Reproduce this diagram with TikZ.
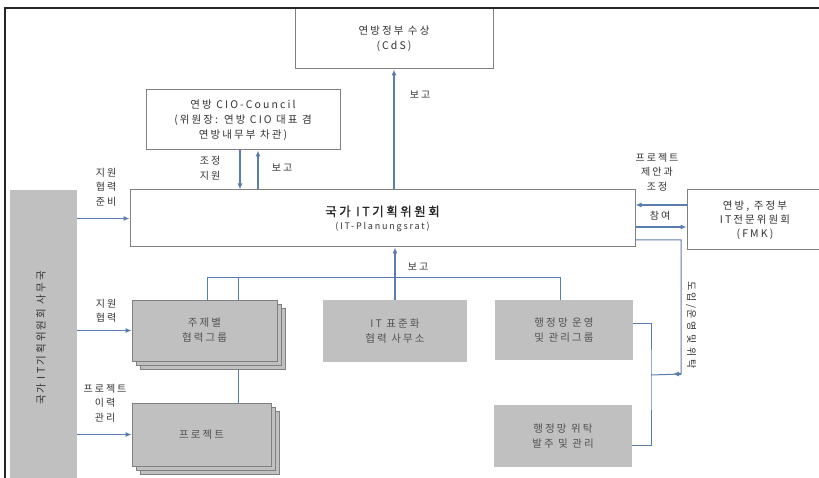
\documentclass[tikz,border=0pt]{standalone}
\usepackage{fontspec}
\setmainfont{Noto Sans CJK KR}[LetterSpace=20]
\usetikzlibrary{arrows.meta,shadows,backgrounds}

\definecolor{blau}{HTML}{5A7DB0}
\definecolor{kasten}{HTML}{C0C0C0}
\definecolor{rand}{HTML}{808080}
\definecolor{schrift}{HTML}{333333}

\tikzset{
  weiss/.style={draw=rand, fill=white, line width=1pt, align=center, text=schrift,
    font=\fontsize{10.5}{15}\selectfont},
  grau/.style={fill=kasten, align=center, text=schrift!85,
    font=\fontsize{10.5}{15}\selectfont},
  stapel/.style={grau, draw=rand, line width=.8pt,
    double copy shadow={shadow xshift=4pt, shadow yshift=-4pt, fill=kasten, draw=rand}},
  pfeil/.style={draw=blau, line width=1.1pt, -{Latex[length=6pt,width=5pt]}},
  linie/.style={draw=blau, line width=1pt},
  beschr/.style={text=schrift, align=center, font=\fontsize{10}{14.5}\selectfont},
}

\begin{document}
\begin{tikzpicture}[x=1pt,y=-1pt]
  \useasboundingbox (0,0) rectangle (819,478);

  % obere Ebene
  \begin{scope}[every node/.style={weiss}]
    \node[minimum width=198pt, minimum height=61pt] (cds) at (394,38.5) {연방정부 수상\\(CdS)};
    \node[minimum width=194pt, minimum height=60pt] (cio) at (243,120)
      {연방 CIO-Council\\(위원장: 연방 CIO 대표 겸\\연방내무부 차관)};
    \node[minimum width=505pt, minimum height=57pt] (rat) at (382.5,218.5)
      {{\fontsize{12.5}{15}\selectfont\addfontfeature{FakeBold=1}\color{black!85}국가 IT기획위원회}\\[-2pt]
       {\fontsize{9}{11}\selectfont (IT-Planungsrat)}};
    \node[minimum width=136pt, minimum height=60pt, font=\fontsize{10.5}{14}\selectfont] (fmk) at (755,220)
      {연방, 주정부\\IT전문위원회\\(FMK)};
  \end{scope}

  % untere Ebene
  \node[grau, minimum width=67pt, minimum height=300pt] (sek) at (43.5,340) {};
  \node[beschr, rotate=90, font=\fontsize{10.5}{14}\selectfont] (sektxt) at (41,338) {국가 IT기획위원회 사무국};
  \node[stapel, minimum width=145pt, minimum height=61pt] (grp) at (204.5,330.5) {주제별\\협력그룹};
  \node[grau, minimum width=144pt, minimum height=62pt] (std) at (395,331) {IT 표준화\\협력 사무소};
  \node[grau, minimum width=138pt, minimum height=60pt] (net) at (564,330) {행정망 운영\\및 관리그룹};
  \node[stapel, minimum width=139pt, minimum height=63pt] (prj) at (201.5,434.5) {프로젝트};
  \node[grau, minimum width=138pt, minimum height=62pt] (ord) at (563,436) {행정망 위탁\\발주 및 관리};

  % Hilfspunkte
  \coordinate (b1) at (207,278);
  \coordinate (b2) at (238,278);
  \coordinate (b3) at (560,278);
  \coordinate (wt) at (681,374);
  \coordinate (spitze) at (673,374);
  \coordinate (jn) at (651,375);

  % Beschriftungen
  \begin{scope}[every node/.style={beschr}]
    \node (l1) at (420,95) {보고};
    \node (l2) at (210,168.5) {조정\\지원};
    \node (l3) at (282,168) {보고};
    \node (l4) at (106,187) {지원\\협력\\준비};
    \node (l5) at (106,311) {지원\\협력};
    \node (l6) at (105,403) {프로젝트\\이력\\관리};
    \node (l7) at (657,172) {프로젝트\\제안과\\조정};
    \node (l8) at (660,216) {참여};
    \node (l9) at (418,267) {보고};
    \node[rotate=-90] (l10) at (691,325) {도입/운영 및 위탁};
  \end{scope}

  % Verbindungen
  \begin{scope}[on background layer]
    \draw[linie] (b2) -- (b2 |- prj.north);
  \end{scope}
  \draw[linie] (b1 |- grp.north) -- (b1) -- (b3) -- (b3 |- net.north);
  \draw[linie] ([yshift=-21.5pt]rat.east) -| (wt) -- (jn);
  \draw[pfeil] (wt) -- (spitze);
  \draw[linie] ([yshift=7pt]net.east) -| (jn) |- ([yshift=-9pt]ord.east);

  \path (cds.south |- rat.north) edge[pfeil] (cds.south);
  \path ([xshift=-3pt]cio.south) edge[pfeil] ([xshift=-3pt]cio.south |- rat.north);
  \path ([xshift=15pt]cio.south |- rat.north) edge[pfeil] ([xshift=15pt]cio.south);
  \path ([yshift=15pt]fmk.west) edge[pfeil] ([yshift=15pt]fmk.west -| rat.east);
  \path ([yshift=-7pt]fmk.west -| rat.east) edge[pfeil] ([yshift=-7pt]fmk.west);
  \path (std.north) edge[pfeil] (std.north |- rat.south);
  \path (sek.east |- rat.west) edge[pfeil] (rat.west);
  \path (sek.east |- grp.west) edge[pfeil] (grp.west);
  \path (sek.east |- prj.west) edge[pfeil] (prj.west);

  % Rahmen
  \draw[line width=1.5pt, black!85] (5,478) -- (5,8) -- (819,8);
\end{tikzpicture}
\end{document}
